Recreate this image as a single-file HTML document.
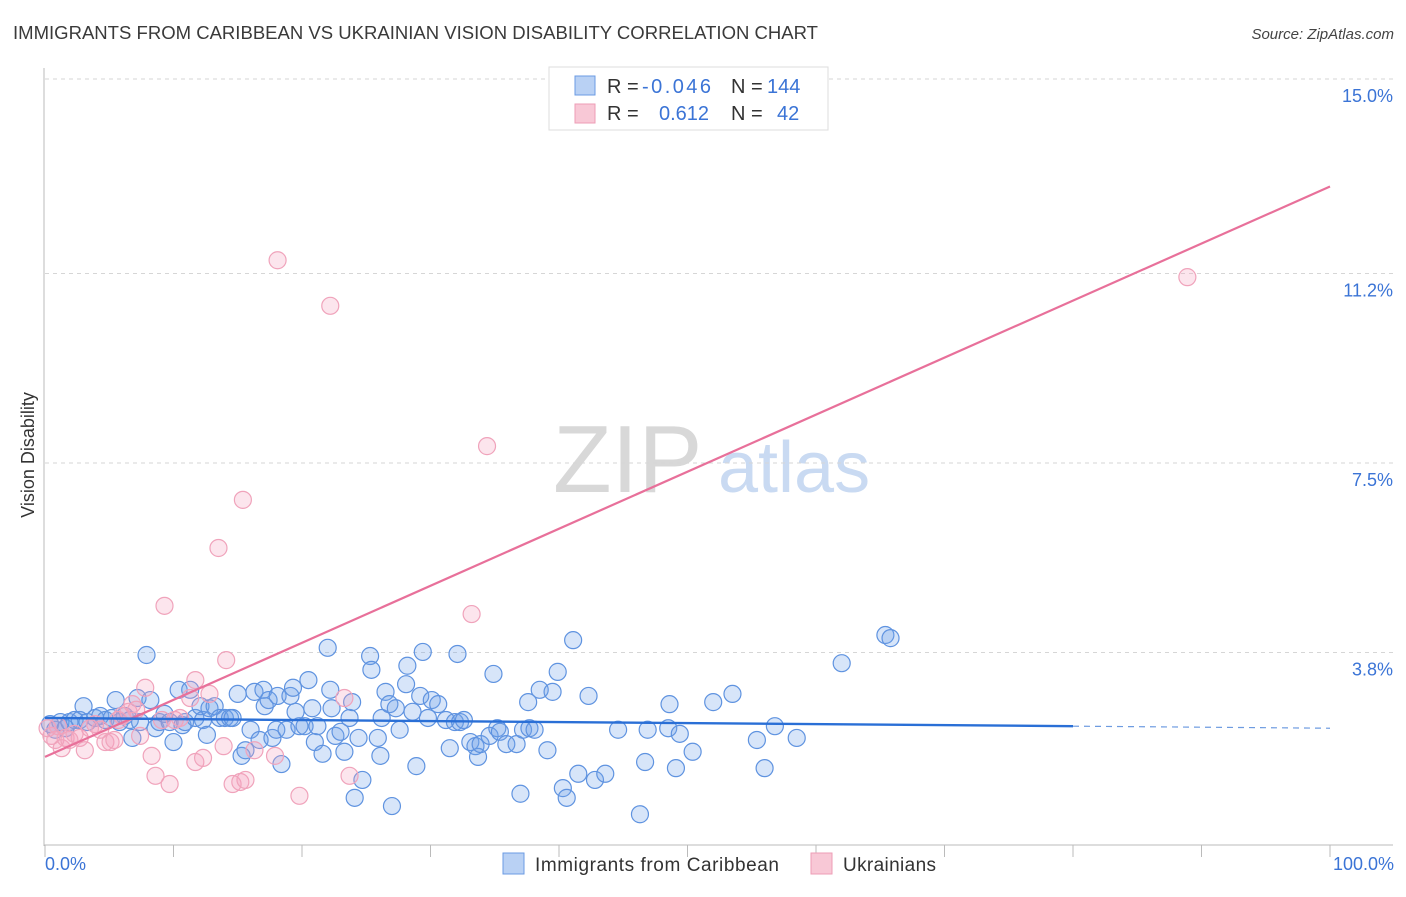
<!DOCTYPE html>
<html><head><meta charset="utf-8">
<style>
body{margin:0;background:#fff;font-family:"Liberation Sans",sans-serif;}
svg text{font-family:"Liberation Sans",sans-serif;}
</style></head>
<body>
<svg id="chart" width="1406" height="892" xmlns="http://www.w3.org/2000/svg">
<text x="13" y="39" font-size="18" fill="#3a3a3a" textLength="805" lengthAdjust="spacingAndGlyphs">IMMIGRANTS FROM CARIBBEAN VS UKRAINIAN VISION DISABILITY CORRELATION CHART</text>
<text x="1394" y="39" font-size="15" fill="#444" font-style="italic" text-anchor="end">Source: ZipAtlas.com</text>
<g>
<text x="553" y="492" font-size="96" fill="#d8d8d8" font-family="Liberation Serif,serif">ZIP</text>
<text x="718" y="492" font-size="72" fill="#c9daf2">atlas</text>
</g>
<g id="grid"></g>
<g id="axes"></g>
<g id="pts"></g>
<g id="trends"></g>
<text transform="translate(34,455) rotate(-90)" font-size="18" fill="#333" text-anchor="middle">Vision Disability</text>
<text x="45" y="870" font-size="18" fill="#3b74d6">0.0%</text>
<text x="1394" y="870" font-size="18" fill="#3b74d6" text-anchor="end">100.0%</text>
<g>
<rect x="549" y="67" width="279" height="63" fill="#fff" stroke="#ddd"/>
<rect x="575" y="76" width="20" height="19" fill="#b9d1f4" stroke="#6b9be3"/>
<rect x="575" y="104" width="20" height="19" fill="#f8c8d6" stroke="#ee9db6"/>
<text x="607" y="93" font-size="20" fill="#333">R =</text>
<text x="642" y="93" font-size="20" fill="#3b74d6" textLength="69">-0.046</text>
<text x="731" y="93" font-size="20" fill="#333">N =</text>
<text x="767" y="93" font-size="20" fill="#3b74d6">144</text>
<text x="607" y="120" font-size="20" fill="#333">R =</text>
<text x="659" y="120" font-size="20" fill="#3b74d6">0.612</text>
<text x="731" y="120" font-size="20" fill="#333">N =</text>
<text x="777" y="120" font-size="20" fill="#3b74d6">42</text>
</g>
<g>
<rect x="503" y="853" width="21" height="21" fill="#b9d1f4" stroke="#6b9be3"/>
<text x="535" y="871" font-size="19" fill="#333" textLength="244">Immigrants from Caribbean</text>
<rect x="811" y="853" width="21" height="21" fill="#f8c8d6" stroke="#ee9db6"/>
<text x="843" y="871" font-size="19" fill="#333" textLength="93">Ukrainians</text>
</g>
</svg>
<script>
const yTicks=[3.8,7.5,11.2,15.0];
const yTickLabels=["3.8%","7.5%","11.2%","15.0%"];
const xTicks=[0,10,20,30,40,50,60,70,80,90,100];
const blueX=[0.4,0.8,1.2,1.6,1.9,2.3,2.7,3.0,3.3,3.9,4.3,4.7,5.2,5.5,5.8,6.2,6.6,6.8,7.2,7.4,7.9,8.2,8.6,8.9,9.3,9.7,10.0,10.4,10.7,10.9,11.3,11.7,12.1,12.3,12.6,12.8,13.2,13.6,14.0,14.4,14.6,15.0,15.3,15.6,16.0,16.3,16.7,17.0,17.1,17.4,17.7,18.0,18.1,18.4,18.8,19.1,19.3,19.5,19.8,20.2,20.5,20.8,21.0,21.2,21.6,22.0,22.2,22.3,22.6,23.0,23.3,23.7,23.9,24.1,24.4,24.7,25.3,25.4,25.9,26.1,26.2,26.5,26.8,27.0,27.3,27.6,28.1,28.2,28.6,28.9,29.2,29.4,29.8,30.1,30.6,31.2,31.5,31.9,32.1,32.3,32.6,33.1,33.5,33.7,33.9,34.6,34.9,35.2,35.4,35.9,36.7,37.0,37.2,37.6,37.7,38.1,38.5,39.1,39.5,39.9,40.3,40.6,41.1,41.5,42.3,42.8,43.6,44.6,46.3,46.7,46.9,48.5,48.6,49.1,49.4,50.4,52.0,53.5,55.4,56.0,56.8,58.5,62.0,65.4,65.8];
const blueY=[2.40,2.29,2.44,2.32,2.44,2.48,2.48,2.75,2.44,2.52,2.56,2.48,2.52,2.87,2.44,2.56,2.48,2.13,2.91,2.44,3.75,2.87,2.32,2.44,2.60,2.44,2.05,3.07,2.38,2.44,3.07,2.52,2.75,2.48,2.19,2.71,2.75,2.52,2.52,2.52,2.52,2.99,1.78,1.89,2.29,3.03,2.09,3.07,2.75,2.87,2.13,2.29,2.95,1.62,2.29,2.95,3.11,2.64,2.36,2.36,3.26,2.71,2.05,2.36,1.82,3.89,3.07,2.71,2.17,2.25,1.86,2.52,2.83,0.96,2.13,1.31,3.73,3.46,2.13,1.78,2.52,3.03,2.79,0.80,2.71,2.29,3.18,3.54,2.64,1.58,2.95,3.81,2.52,2.87,2.79,2.48,1.93,2.44,3.77,2.44,2.48,2.05,1.97,1.76,2.01,2.17,3.38,2.32,2.25,2.01,2.01,1.04,2.29,2.83,2.32,2.29,3.07,1.89,3.03,3.42,1.15,0.96,4.04,1.43,2.95,1.31,1.43,2.29,0.64,1.66,2.29,2.32,2.79,1.54,2.21,1.86,2.83,2.99,2.09,1.54,2.36,2.13,3.59,4.14,4.08];
const pinkX=[0.2,0.5,0.8,1.0,1.3,1.6,1.9,2.3,2.7,3.1,3.5,3.9,4.3,4.7,5.1,5.4,5.7,6.0,6.5,6.8,7.1,7.4,7.8,8.3,8.6,9.1,9.3,9.7,10.1,10.5,11.3,11.7,11.7,12.3,12.8,13.5,13.9,14.1,14.6,15.2,15.4,15.6,16.3,17.9,18.1,19.8,22.2,23.3,23.7,33.2,34.4,88.9];
const pinkY=[2.32,2.17,2.09,2.36,1.93,2.13,2.09,2.21,2.13,1.89,2.32,2.40,2.29,2.05,2.05,2.09,2.48,2.56,2.64,2.79,2.68,2.17,3.11,1.78,1.39,2.48,4.71,1.23,2.48,2.52,2.91,3.26,1.66,1.74,2.99,5.84,1.97,3.65,1.23,1.27,6.78,1.31,1.89,1.78,11.46,1.00,10.57,2.91,1.39,4.55,7.83,11.13];
const blueTrend=[2.52,2.32];
const pinkTrend=[1.76,12.90];
const blueSolidEnd=80;

const NS="http://www.w3.org/2000/svg";
const X0=45,X1=1330,Y0=847,YPER=51.2;
const sx=v=>X0+(X1-X0)*v/100;
const sy=v=>Y0-v*YPER;
function mk(tag,attrs,parent){const e=document.createElementNS(NS,tag);for(const k in attrs)e.setAttribute(k,attrs[k]);parent.appendChild(e);return e;}

const grid=document.getElementById('grid');
yTicks.forEach((t,i)=>{
  const l=mk('line',{x1:45,x2:1393,y1:sy(t),y2:sy(t),stroke:'#d6d6d6','stroke-dasharray':'4,4'},grid);
  
  
  const tx=mk('text',{x:1393,y:sy(t)+23,'font-size':18,fill:'#3b74d6','text-anchor':'end'},grid);
  tx.textContent=yTickLabels[i];
  
  
});
const axes=document.getElementById('axes');
const ya=mk('line',{x1:44,x2:44,y1:68,y2:846,stroke:'#bbb'},axes);


const xa=mk('line',{x1:44,x2:1393,y1:845,y2:845,stroke:'#bbb'},axes);


xTicks.forEach(t=>{
  const l=mk('line',{x1:sx(t),x2:sx(t),y1:845,y2:857,stroke:'#bbb'},axes);
  
  
});
const pts=document.getElementById('pts');
blueX.forEach((x,i)=>{
  const c=mk('circle',{cx:sx(x),cy:sy(blueY[i]),r:8.5,fill:'rgba(110,160,235,0.28)',stroke:'#5f93e0','stroke-width':1.2},pts);
  
  
});
pinkX.forEach((x,i)=>{
  const c=mk('circle',{cx:sx(x),cy:sy(pinkY[i]),r:8.5,fill:'rgba(245,160,190,0.28)',stroke:'#f0a3bb','stroke-width':1.2},pts);
  
  
});
const tr=document.getElementById('trends');
const bAt=x=>blueTrend[0]+(blueTrend[1]-blueTrend[0])*x/100;
const pl=mk('line',{x1:sx(0),y1:sy(pinkTrend[0]),x2:sx(100),y2:sy(pinkTrend[1]),stroke:'#e8709a','stroke-width':2.2},tr);


const bl=mk('line',{x1:sx(0),y1:sy(bAt(0)),x2:sx(blueSolidEnd),y2:sy(bAt(blueSolidEnd)),stroke:'#2a6fd6','stroke-width':2.4},tr);


const bd=mk('line',{x1:sx(blueSolidEnd),y1:sy(bAt(blueSolidEnd)),x2:sx(100),y2:sy(bAt(100)),stroke:'#6d9be0','stroke-width':1.2,'stroke-dasharray':'6,5'},tr);


</script>
</body></html>
